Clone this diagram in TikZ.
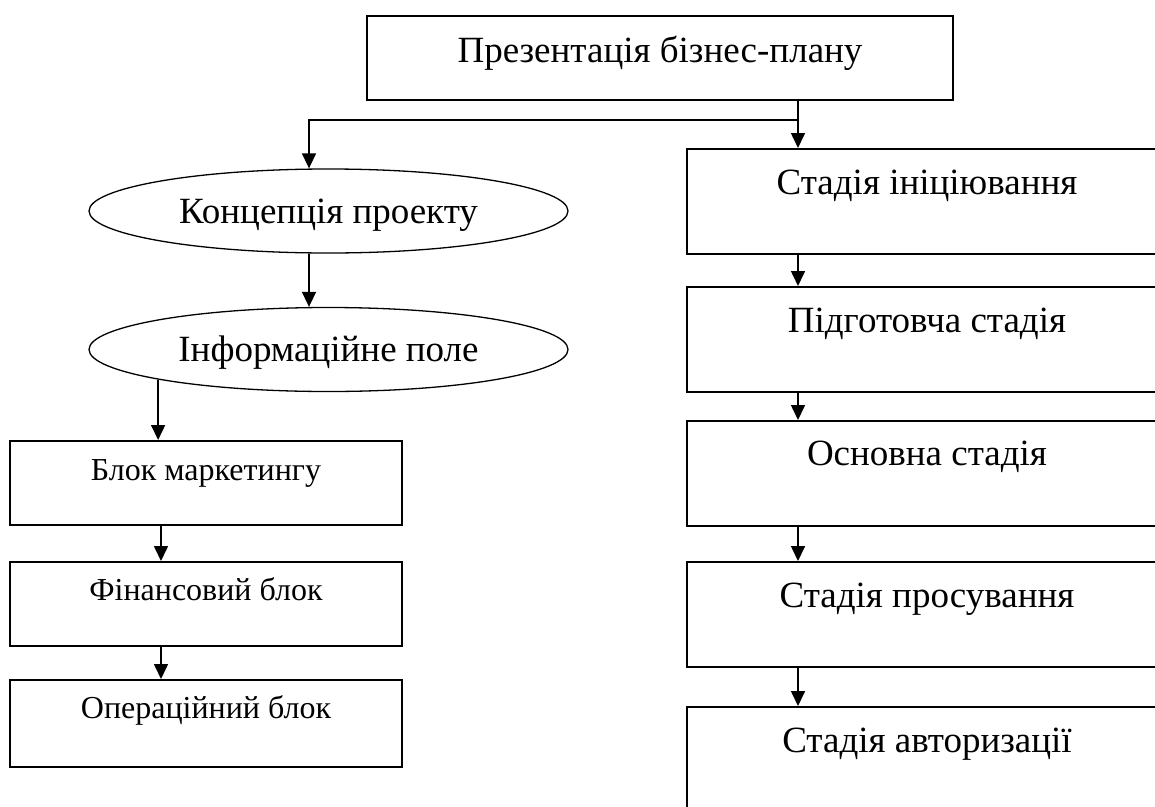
\documentclass[tikz,border=0pt]{standalone}
\usepackage{fontspec}
\setmainfont{Liberation Serif}
\usetikzlibrary{arrows.meta,shapes.geometric}
\tikzset{
  box/.style={draw, line width=1.5pt, inner sep=0pt, anchor=north},
  bigtxt/.style={font=\fontsize{37}{44}\selectfont},
  smalltxt/.style={font=\fontsize{32}{38}\selectfont},
  oval/.style={draw, ellipse, line width=1.3pt, inner sep=0pt, minimum width=479pt, minimum height=84pt, text height=24.5pt, text depth=0pt, font=\fontsize{37}{44}\selectfont},
  conn/.style={line width=1.6pt},
  arr/.style={line width=1.6pt, -{Triangle[width=14pt,length=15pt]}}
}
\begin{document}
\begin{tikzpicture}[x=1pt,y=-1pt]
\clip (0,0) rectangle (1155,806);
\fill[white] (0,0) rectangle (1155,806);
% top
\node[box, bigtxt, minimum width=586pt, text height=47pt, text depth=37pt] (top) at (660,15) {Презентація бізнес-плану};
% right column
\node[box, bigtxt, minimum width=480pt, text height=46pt, text depth=59pt] (r1) at (927,148) {Стадія ініціювання};
\node[box, bigtxt, minimum width=480pt, text height=46pt, text depth=59pt] (r2) at (927,286) {Підготовча стадія};
\node[box, bigtxt, minimum width=480pt, text height=45pt, text depth=60pt] (r3) at (927,420) {Основна стадія};
\node[box, bigtxt, minimum width=480pt, text height=46pt, text depth=59pt] (r4) at (927,561) {Стадія просування};
\node[box, bigtxt, minimum width=480pt, text height=46pt, text depth=59pt] (r5) at (927,706) {Стадія авторизації};
% left column
\node[oval] (e1) at (328.5,211) {Концепція проекту};
\node[oval] (e2) at (328.5,349.5) {Інформаційне поле};
\node[box, smalltxt, minimum width=392pt, text height=40pt, text depth=44pt] (l1) at (206,440) {Блок маркетингу};
\node[box, smalltxt, minimum width=392pt, text height=39pt, text depth=45pt] (l2) at (206,561) {Фінансовий блок};
\node[box, smalltxt, minimum width=392pt, text height=39pt, text depth=48pt] (l3) at (206,679) {Операційний блок};
% connectors
\coordinate (j) at (798,120);
\coordinate (jl) at (309,120);
\coordinate (lx) at (161,0);
\draw[conn] (top.south -| j) -- (j);
\draw[arr] (j) -- (r1.north -| j);
\draw[arr] (j) -- (jl) -- (e1.north -| jl);
\draw[arr] (e1.south -| jl) -- (e2.north -| jl);
\draw[arr] (e2.190) -- (e2.190 |- l1.north);
\draw[arr] (l1.south -| lx) -- (l2.north -| lx);
\draw[arr] (l2.south -| lx) -- (l3.north -| lx);
\draw[arr] (r1.south -| j) -- (r2.north -| j);
\draw[arr] (r2.south -| j) -- (r3.north -| j);
\draw[arr] (r3.south -| j) -- (r4.north -| j);
\draw[arr] (r4.south -| j) -- (r5.north -| j);
\end{tikzpicture}
\end{document}
